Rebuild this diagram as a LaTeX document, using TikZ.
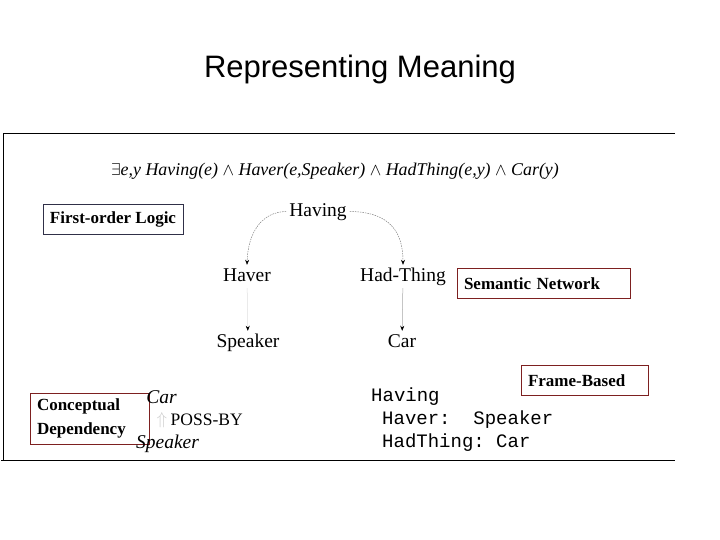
\documentclass[tikz,border=0pt]{standalone}
\usepackage{amsmath,amssymb}
\usepackage{fontspec}
\setmainfont{Liberation Serif}
\setsansfont{Liberation Sans}
\setmonofont{Liberation Mono}
\usepackage{xcolor}
\usepackage{tikz}
\usetikzlibrary{arrows.meta,positioning,calc}
\definecolor{tagred}{RGB}{125,32,32}
\definecolor{tagnavy}{RGB}{48,48,72}

\begin{document}
\begin{tikzpicture}[x=1pt, y=-1pt, every node/.style={inner sep=0pt}, tag/.style={draw=tagred,line width=0.9pt,font=\fontsize{17}{24}\selectfont\bfseries,align=left,inner xsep=7pt,inner ysep=0pt,minimum height=30pt}, net/.style={font=\fontsize{19.5}{22}\selectfont,inner sep=3pt,text height=13pt,text depth=4pt}, netarr/.style={-{Stealth[length=5pt,width=4pt,color=black]},line width=0.5pt}, mono/.style={font=\ttfamily\fontsize{19}{23}\selectfont,anchor=west}]
\useasboundingbox (0,0) rectangle (720,540);
\node[font=\sffamily\fontsize{31}{35}\selectfont] (title) at (360,69) {Representing Meaning};
\draw[line width=1pt] (675,134) -- (3,134) -- (3,460);
\draw[line width=1pt] (1,460) -- (675,460);
% first-order logic
\node[font=\fontsize{17.9}{20}\selectfont] (fol) at (335,171) {$\exists$\textit{e,y Having(e)} $\wedge$ \textit{Haver(e,Speaker)} $\wedge$ \textit{HadThing(e,y)} $\wedge$ \textit{Car(y)}};
\node[tag,draw=tagnavy,minimum width=139pt] (foltag) at (113,219) {First-order Logic};
% semantic network
\node[net] (having) at (318,211.5) {Having};
\node[net] (haver) at (247,276.5) {Haver};
\node[net] (hadthing) at (403,276.5) {Had-Thing};
\node[net] (speaker) at (248,342.5) {Speaker};
\node[net] (car) at (402,342.5) {Car};
\draw[netarr,draw=gray,dash pattern=on 1.5pt off 1pt] (having.west) .. controls (262,212) and (248,232) .. (haver.north);
\draw[netarr,draw=gray,dash pattern=on 1.5pt off 1pt] (having.east) .. controls (392,212) and (403,234) .. (hadthing.north);
\draw[netarr,draw=gray!25] (haver) -- (speaker);
\draw[netarr,draw=gray!70] (hadthing) -- (car);
\node[tag,text width=159pt] (semtag) at (543.5,283.5) {Semantic Network};
% conceptual dependency
\node[tag,text width=105pt,minimum height=51pt] (cdtag) at (89.5,418.5) {Conceptual\\Dependency};
\node[font=\fontsize{19.5}{22}\selectfont\itshape] (cdcar) at (161.5,397) {Car};
\node[text=gray!40,font=\fontsize{16}{18}\selectfont] (cdup) at (162,420) {$\Uparrow$};
\node[font=\fontsize{17.5}{20}\selectfont,right=3pt of cdup] (poss) {POSS-BY};
\node[font=\fontsize{19.5}{22}\selectfont\itshape] (cdspeaker) at (167.5,444) {Speaker};
% frame-based
\node[tag,text width=113pt] (frametag) at (584.5,380.5) {Frame-Based};
\node[mono] (fhaving) at (371,397) {Having};
\node[mono] (fhaver) at (382,420) {Haver:\ \ Speaker};
\node[mono] (fhadthing) at (382,443) {HadThing:\ Car};
\end{tikzpicture}
\end{document}
